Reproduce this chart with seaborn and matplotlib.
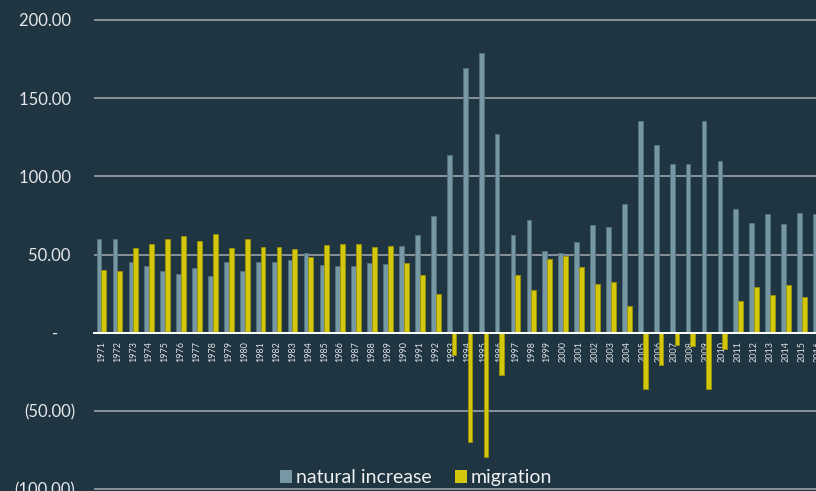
import numpy as np
import pandas as pd
import matplotlib
matplotlib.use("Agg")
import matplotlib.pyplot as plt
import seaborn as sns
from matplotlib.ticker import FuncFormatter

years = list(range(1971, 2017))

natural_increase = [
    59.9, 60.2, 45.4, 42.8, 39.4, 37.7, 41.3, 36.4, 45.2, 39.6,
    44.9, 44.9, 46.2, 50.9, 43.2, 42.8, 42.8, 44.5, 43.9, 55.2,
    62.6, 74.8, 113.5, 169.3, 178.9, 127.0, 62.6, 72.0, 52.4, 50.9,
    58.0, 68.8, 67.3, 82.4, 135.5, 119.9, 107.8, 108.0, 135.3, 109.9,
    79.4, 70.1, 75.6, 69.4, 76.7, 76.0,
]

migration = [
    39.8, 39.6, 54.1, 56.7, 60.1, 61.8, 58.4, 63.1, 54.3, 59.9,
    54.5, 54.5, 53.2, 48.4, 56.2, 56.7, 56.7, 55.0, 55.6, 44.5,
    36.6, 24.5, -14.1, -69.8, -79.4, -27.3, 36.6, 27.5, 47.1, 48.8,
    41.7, 30.9, 32.4, 17.3, -36.0, -20.4, -7.7, -8.3, -35.8, -10.4,
    20.2, 29.4, 24.1, 30.2, 22.8, 25.0,
]

series_names = ["natural increase", "migration"]
colors = ["#7698a5", "#d3c70c"]
edges = ["#56737f", "#9c930a"]

df = pd.DataFrame({
    "year": [str(y) for y in years] * 2,
    "series": [series_names[0]] * len(years) + [series_names[1]] * len(years),
    "value": natural_increase + migration,
})

bg = "#1f3542"

sns.set_style("white")
plt.rcParams["font.family"] = ["Lato", "DejaVu Sans"]

fig = plt.figure(figsize=(8.16, 4.91), dpi=100, facecolor=bg)
ax = fig.add_axes([93.5 / 816, 1 - 490.6 / 491, 732.3 / 816, 472.2 / 491])
ax.set_facecolor(bg)

sns.barplot(
    data=df,
    x="year",
    y="value",
    hue="series",
    palette=colors,
    saturation=1,
    width=0.6,
    errorbar=None,
    ax=ax,
)

for container, ec in zip(ax.containers, edges):
    for bar in container:
        bar.set_edgecolor(ec)
        bar.set_linewidth(0.6)

ax.set_ylim(-101, 201)
ax.set_yticks(np.arange(-100, 201, 50))


# accounting style labels: 50.00 / - / (50.00)
def acct(v, pos):
    if abs(v) < 1e-9:
        return "-    "
    if v < 0:
        return "({:.2f})".format(-v)
    return "{:.2f} ".format(v)


ax.yaxis.set_major_formatter(FuncFormatter(acct))
ax.yaxis.grid(True, color="#a8adb0", linewidth=1.1)
ax.set_axisbelow(True)

for side in ["top", "right", "left"]:
    ax.spines[side].set_visible(False)
ax.spines["bottom"].set_position(("data", 0))
ax.spines["bottom"].set_color("white")
ax.spines["bottom"].set_linewidth(1.4)
ax.spines["bottom"].set_zorder(3)

ax.tick_params(axis="y", length=0, pad=13.4, labelsize=12, labelcolor="#e6e8ea")
ax.tick_params(axis="x", length=0, pad=6, labelsize=6.5, labelcolor="#dfe2e4",
               labelrotation=90)

ax.set_xlabel("")
ax.set_ylabel("")

handles = ax.get_legend().legend_handles
ax.get_legend().remove()
leg = fig.legend(
    handles=handles,
    labels=series_names,
    loc="center",
    bbox_to_anchor=(0.51, 0.027),
    ncol=2,
    frameon=False,
    fontsize=14,
    handlelength=0.6,
    handleheight=0.6,
    handletextpad=0.2,
    columnspacing=1.2,
    borderaxespad=0,
)
for t in leg.get_texts():
    t.set_color("#eef0f1")
for h in leg.legend_handles:
    h.set_edgecolor("none")

plt.savefig("out.png", dpi=100, facecolor=bg)
